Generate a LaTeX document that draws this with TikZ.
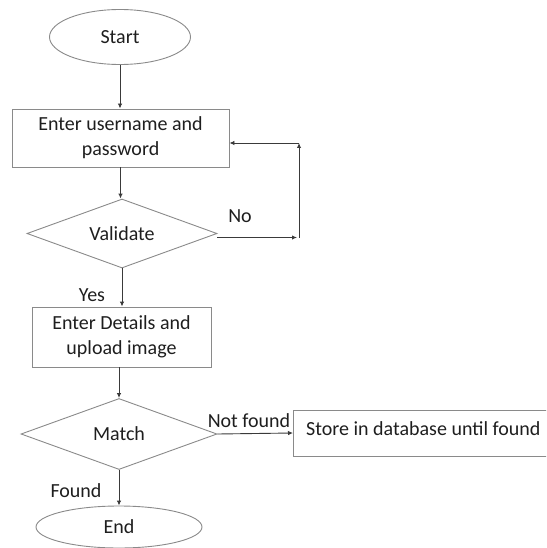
\documentclass[tikz,border=0pt]{standalone}
\usepackage{fontspec}
\setmainfont{Carlito}
\usetikzlibrary{arrows.meta,shapes.geometric}
\definecolor{shapecol}{HTML}{8A8A8A}
\definecolor{arrcol}{HTML}{3A3A3A}
\definecolor{txtcol}{HTML}{1E1E1E}
\tikzset{
  base/.style={draw=shapecol, line width=0.9pt, text=txtcol, inner sep=0pt,
    font=\fontsize{20}{25}\selectfont, align=center},
  term/.style={base, ellipse},
  procbox/.style={base, rectangle},
  decide/.style={base, diamond},
  arr/.style={draw=arrcol, line width=0.9pt, -{Latex[length=5pt,width=4.5pt]}},
  lbl/.style={text=txtcol, font=\fontsize{20}{25}\selectfont, inner sep=0pt}
}
\begin{document}
\begin{tikzpicture}[x=1pt,y=-1pt]
\path[use as bounding box, clip] (0,0) rectangle (546,548);
\node[term, minimum width=141pt, minimum height=55pt] (start) at (120,37) {Start};
\node[procbox, minimum width=217pt, minimum height=58pt] (b1) at (120.5,138) {Enter username and\\password};
\node[decide, minimum width=190pt, minimum height=69pt, aspect=2.75] (v) at (122,233.5) {Validate};
\node[procbox, minimum width=179pt, minimum height=60pt] (b2) at (121.5,337) {Enter Details and\\upload image};
\node[decide, minimum width=196pt, minimum height=71pt, aspect=2.76] (m) at (119,434) {Match};
\node[procbox, anchor=west, minimum width=290pt, minimum height=46pt] (s) at (293,433) {};
\node[lbl, anchor=west] (stext) at (306,429) {Store in database until found};
\node[term, minimum width=166pt, minimum height=42pt] (e) at (119,527) {End};

\coordinate (n1) at (297,237.5);
\coordinate (n2) at (299,237.5);
\coordinate (n3) at (299,143);

\draw[arr] (start.south) -- (start.south |- b1.north);
\draw[arr] (b1.south) -- (b1.south |- v.north);
\draw[arr] (v.east |- n1) -- (n1);
\draw[arr] (n2) -- (n3);
\draw[arr] (n3) -- (b1.east |- n3);
\draw[arr] (v.south) -- (v.south |- b2.north);
\draw[arr] (m.north |- b2.south) -- (m.north);
\draw[arr] (m.east) -- (s.west);
\draw[arr] (m.south) -- (e.north);

\node[lbl] (no) at (240,216) {No};
\node[lbl] (yes) at (92,295) {Yes};
\node[lbl] (nf) at (249,421) {Not found};
\node[lbl] (fd) at (76,491) {Found};
\end{tikzpicture}
\end{document}
